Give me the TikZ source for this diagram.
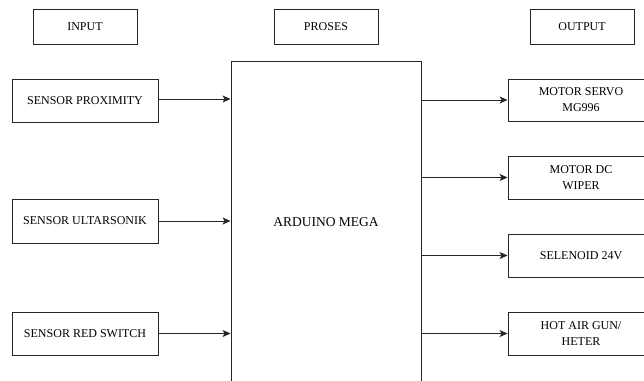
\documentclass[tikz,border=0pt]{standalone}
\usepackage{fontspec}
\setmainfont{Liberation Serif}
\usetikzlibrary{arrows.meta}
\begin{document}
\begin{tikzpicture}[x=1pt,y=-1pt,
  box/.style={draw=black!85,line width=0.9pt,rectangle,inner sep=0pt,align=center,font=\fontsize{12}{16}\selectfont},
  conn/.style={draw=black!85,line width=0.9pt,-{Stealth[length=8pt,width=7pt,inset=2pt]}}]
\clip (0,0) rectangle (644,380);
\fill[white] (0,0) rectangle (644,380);
% headers
\node[box,minimum width=104pt,minimum height=35pt] (input) at (85,26.5) {INPUT};
\node[box,minimum width=104pt,minimum height=35pt] (proses) at (326,26.5) {PROSES};
\node[box,minimum width=104pt,minimum height=35pt] (output) at (582,26.5) {OUTPUT};
% arduino
\node[box,minimum width=190pt,minimum height=322pt,font=\fontsize{13.5}{16}\selectfont] (ard) at (326,222) {ARDUINO MEGA};
% inputs
\node[box,minimum width=146pt,minimum height=43pt] (prox) at (85,100.5) {SENSOR PROXIMITY};
\node[box,minimum width=146pt,minimum height=44pt] (ultra) at (85,221) {SENSOR ULTARSONIK};
\node[box,minimum width=146pt,minimum height=43pt] (red) at (85,333.5) {SENSOR RED SWITCH};
% outputs
\node[box,minimum width=146pt,minimum height=42pt] (servo) at (581,100) {MOTOR SERVO\\MG996};
\node[box,minimum width=146pt,minimum height=43pt] (dc) at (581,177.5) {MOTOR DC\\WIPER};
\node[box,minimum width=146pt,minimum height=43pt] (sol) at (581,255.5) {SELENOID 24V};
\node[box,minimum width=146pt,minimum height=43pt] (hot) at (581,333.5) {HOT AIR GUN/\\HETER};
% connectors
\draw[conn] (prox.east |- 0,99) -- (ard.west |- 0,99);
\draw[conn] (ultra.east) -- (ard.west |- ultra.east);
\draw[conn] (red.east) -- (ard.west |- red.east);
\draw[conn] (ard.east |- servo.west) -- (servo.west);
\draw[conn] (ard.east |- dc.west) -- (dc.west);
\draw[conn] (ard.east |- sol.west) -- (sol.west);
\draw[conn] (ard.east |- hot.west) -- (hot.west);
\end{tikzpicture}
\end{document}
